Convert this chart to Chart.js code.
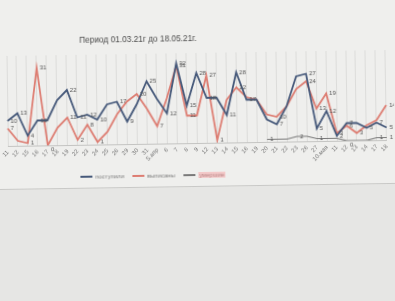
<!DOCTYPE html>
<html><head><meta charset="utf-8">
<script src="https://cdn.jsdelivr.net/npm/chart.js@4"></script>
<style>
html,body{margin:0;padding:0;width:395px;height:301px;overflow:hidden;background:#e6e6e4;font-family:"Liberation Sans",Arial,sans-serif;}
#wrap{position:absolute;left:0;top:0;width:395px;height:301px;transform:rotate(-0.9deg);transform-origin:197px 150px;}
#bg{position:absolute;left:-10px;top:-10px;width:415px;height:196px;background:#efefed;border-bottom:1px solid #c9c9c7;}
canvas{position:absolute;left:0;top:0;}
#title{position:absolute;left:81px;top:33px;font-size:8.3px;color:#4a4a4a;white-space:nowrap;}
#legend{position:absolute;left:80px;top:172px;font-size:6px;color:#7e7e7e;white-space:nowrap;display:flex;align-items:center;}
#legend span.sw{display:inline-block;width:12px;height:2px;margin-right:3px;}
#legend span.it{display:flex;align-items:center;margin-right:8px;}
#legend span.hl{background:#f3c9c9;color:#b88;padding:0 1px;}
</style></head>
<body>
<div id="wrap">
<div id="bg"></div>
<canvas id="c" width="395" height="301"></canvas>
<div id="title">Период 01.03.21г до 18.05.21г.</div>
<div id="legend">
<span class="it"><span class="sw" style="background:#46597a"></span>поступили</span>
<span class="it"><span class="sw" style="background:#dd7d72"></span>выписаны</span>
<span class="it"><span class="sw" style="background:#7a7a7a"></span><span class="hl">умершие</span></span>
</div>
</div>
<script>
const categories = ["11","12","15","16","17","18","19","22","23","24","25","26","29","30","31","5.апр","6","7","8","9","12","13","14","15","16","19","20","21","22","23","26","27","10.мая","11","12","13","14","17","18"];
const admitted = [10,13,4,10,10,18,22,11,12,10,16,17,9,16,25,18,12,32,15,28,18,18,11,28,17,17,9,7,14,26,27,5,12,2,7,7,5,7,5];
const discharged = [7,2,1,31,0,7,11,2,8,1,5,12,17,20,14,7,18,31,11,11,27,1,17,22,18,17,11,10,14,21,24,13,19,3,6,3,6,8,14];
const died = [null,null,null,null,null,null,null,null,null,null,null,null,null,null,null,null,null,null,null,null,null,null,null,null,null,null,1,1,1,2,2,1,1,1,0,0,0,1,1];
const seriesNames = ["поступили","выписаны","умершие"];

const labelPlugin = {
  id:'extremaLabels',
  afterDatasetsDraw(chart){
    const ctx = chart.ctx;
    ctx.save();
    ctx.font = '6px "Liberation Sans", Arial, sans-serif';
    ctx.fillStyle = '#555';
    ctx.textAlign = 'left';
    ctx.textBaseline = 'middle';
    chart.data.datasets.forEach((ds, di) => {
      const meta = chart.getDatasetMeta(di);
      const d = ds.data;
      d.forEach((v, i) => {
        if (v === null) return;
        const p = d[i-1], n = d[i+1];
        const hasP = p !== undefined && p !== null, hasN = n !== undefined && n !== null;
        let ext = false;
        if (hasP && hasN) ext = (v > p && v >= n) || (v < p && v <= n);
        else ext = true;
        if (!ext) return;
        const pt = meta.data[i];
        ctx.fillText(String(v), pt.x + 3, pt.y + (v === 0 ? 4 : 0));
      });
    });
    ctx.restore();
  }
};

new Chart(document.getElementById('c'), {
  type:'line',
  data:{
    labels: categories,
    datasets:[
      {label:seriesNames[0], data:admitted, borderColor:'#46597a', borderWidth:1.8, pointRadius:0, tension:0},
      {label:seriesNames[1], data:discharged, borderColor:'#dd7d72', borderWidth:1.8, pointRadius:0, tension:0},
      {label:seriesNames[2], data:died, borderColor:'#7a7a7a', borderWidth:1.2, pointRadius:0, tension:0}
    ]
  },
  options:{
    responsive:false, animation:false,
    layout:{padding:{left:8, right:7, top:53, bottom:138}},
    plugins:{legend:{display:false}, title:{display:false}, tooltip:{enabled:false}},
    scales:{
      x:{
        grid:{color:'#dcdcda', lineWidth:1, drawTicks:false},
        border:{display:true, color:'#c4c4c2'},
        ticks:{font:{size:6, family:'"Liberation Sans", Arial, sans-serif'}, color:'#777', maxRotation:45, minRotation:45, autoSkip:false, padding:3},
        afterFit(scale){ scale.height = 20; }
      },
      y:{display:false, min:0, max:36}
    }
  },
  plugins:[labelPlugin]
});
</script>
</body></html>
